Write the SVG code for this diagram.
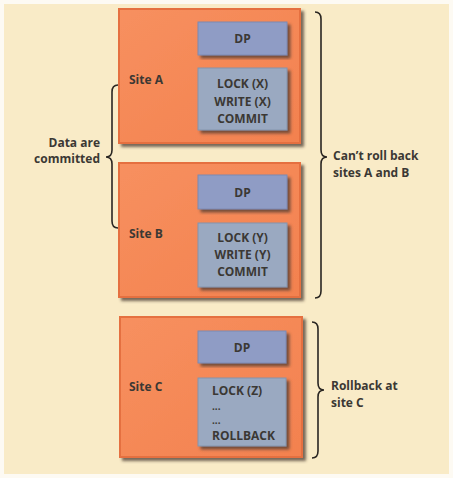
<svg xmlns="http://www.w3.org/2000/svg" width="453" height="478" viewBox="0 0 453 478">
<defs>
<filter id="sh" x="-10%" y="-10%" width="125%" height="125%">
<feDropShadow dx="3" dy="3" stdDeviation="1.5" flood-color="#4a3a30" flood-opacity="0.75"/>
</filter>
<linearGradient id="og" x1="0" y1="0" x2="1" y2="1">
<stop offset="0" stop-color="#f7905f"/>
<stop offset="1" stop-color="#f3814f"/>
</linearGradient>
</defs>
<style>
.site{fill:url(#og);stroke:#e5703f;stroke-width:2;filter:url(#sh)}
.dp{fill:#8f9cc5;stroke:#7d8ab2;stroke-width:1;filter:url(#sh)}
.op{fill:#9aa9c1;stroke:#8494ad;stroke-width:1;filter:url(#sh)}
text{font-family:"Open Sans","Liberation Sans",sans-serif;font-weight:700;font-size:12px;fill:#3b3834}
.dots{font-size:10px}
.c{text-anchor:middle}
.r{text-anchor:end}
.brace{fill:none;stroke:#2a2622;stroke-width:1.6}
</style>
<rect x="0" y="0" width="453" height="478" fill="#fdfaf3"/>
<rect x="4" y="4" width="445" height="470" fill="#f9ebc7"/>

<g id="siteA">
<rect class="site" x="119" y="9" width="181" height="134"/>
<text x="129" y="84">Site A</text>
<rect class="dp" x="198" y="22" width="89" height="33"/>
<text class="c" x="242.5" y="43">DP</text>
<rect class="op" x="198" y="68" width="89" height="62"/>
<text class="c" x="242.5" y="88">LOCK (X)</text>
<text class="c" x="242.5" y="106">WRITE (X)</text>
<text class="c" x="242.5" y="123">COMMIT</text>
</g>

<g id="siteB">
<rect class="site" x="119" y="163" width="181" height="134"/>
<text x="129" y="238">Site B</text>
<rect class="dp" x="198" y="175" width="89" height="34"/>
<text class="c" x="242.5" y="197">DP</text>
<rect class="op" x="198" y="223" width="89" height="64"/>
<text class="c" x="242.5" y="242">LOCK (Y)</text>
<text class="c" x="242.5" y="259">WRITE (Y)</text>
<text class="c" x="242.5" y="276">COMMIT</text>
</g>

<g id="siteC">
<rect class="site" x="120" y="317" width="182" height="140"/>
<text x="129" y="391">Site C</text>
<rect class="dp" x="198" y="331" width="88" height="32"/>
<text class="c" x="242" y="352">DP</text>
<rect class="op" x="198" y="378" width="88" height="68"/>
<text x="212" y="395">LOCK (Z)</text>
<text class="dots" x="212" y="410">...</text>
<text class="dots" x="212" y="424">...</text>
<text x="212" y="440">ROLLBACK</text>
</g>

<g id="connectors">
<path class="brace" d="M118,85 Q112,85 112,92 L112,150 Q112,157 106,157 Q112,157 112,164 L112,221 Q112,228 118,228"/>
<path class="brace" d="M315,12 Q321,12 321,19 L321,150 Q321,157 327,157 Q321,157 321,164 L321,291 Q321,298 315,298"/>
<path class="brace" d="M312,322 Q318,322 318,329 L318,383 Q318,390 324,390 Q318,390 318,397 L318,451 Q318,458 312,458"/>
</g>

<g id="labels">
<text class="r" x="100" y="147">Data are</text>
<text class="r" x="100" y="163">committed</text>
<text x="333" y="160">Can’t roll back</text>
<text x="333" y="177">sites A and B</text>
<text x="331" y="390">Rollback at</text>
<text x="331" y="407">site C</text>
</g>
</svg>
